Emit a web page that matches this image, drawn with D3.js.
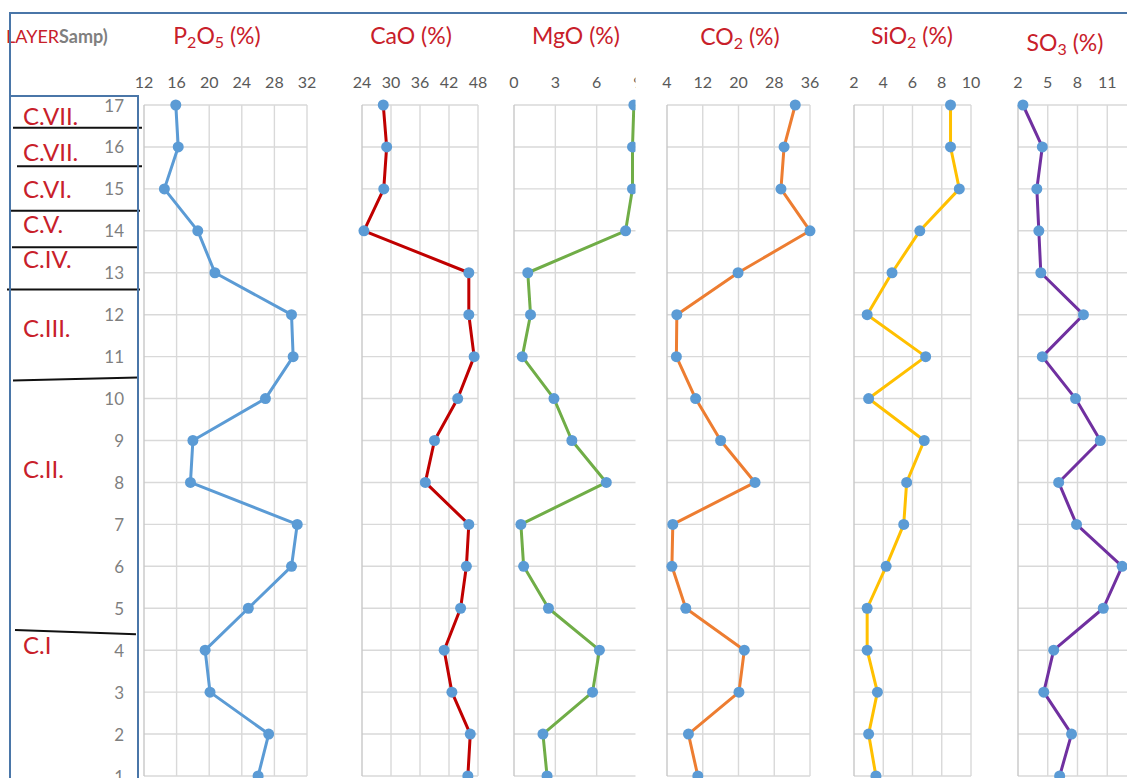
<!DOCTYPE html>
<html>
<head>
<meta charset="utf-8">
<script src="https://cdn.jsdelivr.net/npm/d3@7/dist/d3.min.js"></script>
<style>
  body { margin: 0; background: #fff; }
  svg { display: block; font-family: Lato, "Liberation Sans", sans-serif; }
</style>
</head>
<body>
<svg id="chart" width="1127" height="778"></svg>
<script>
// samples, top of the log first
const samples = d3.range(17, 0, -1);

// values, same order as samples (17 -> 1)
const p2o5 = [15.9, 16.2, 14.5, 18.6, 20.7, 30.1, 30.3, 26.9, 18.0, 17.7, 30.8, 30.1, 24.8, 19.5, 20.1, 27.3, 26.0];
const cao  = [28.4, 29.1, 28.5, 24.4, 46.1, 46.1, 47.2, 43.8, 39.0, 37.1, 46.1, 45.6, 44.4, 41.0, 42.6, 46.4, 45.9];
const mgo  = [8.7, 8.6, 8.6, 8.1, 1.0, 1.2, 0.6, 2.9, 4.2, 6.7, 0.5, 0.7, 2.5, 6.2, 5.7, 2.1, 2.4];
const co2  = [32.7, 30.2, 29.5, 36.0, 19.9, 6.2, 6.1, 10.4, 16.0, 23.7, 5.3, 5.1, 8.2, 21.3, 20.1, 8.8, 10.9];
const sio2 = [8.6, 8.6, 9.2, 6.5, 4.6, 2.9, 6.9, 3.0, 6.8, 5.6, 5.4, 4.2, 2.9, 2.9, 3.6, 3.0, 3.5];
const so3  = [2.5, 4.45, 3.9, 4.1, 4.3, 8.6, 4.45, 7.8, 10.3, 6.1, 7.9, 12.5, 10.6, 5.6, 4.6, 7.4, 6.2];

// tick labels of each panel
const p2o5Ticks = [12, 16, 20, 24, 28, 32];
const caoTicks  = [24, 30, 36, 42, 48];
const mgoTicks  = [0, 3, 6, 9];
const co2Ticks  = [4, 12, 20, 28, 36];
const sio2Ticks = [2, 4, 6, 8, 10];
const so3Ticks  = [2, 5, 8, 11];

// stratigraphic layers (positions in sample units)
const layerNames   = ["C.VII.", "C.VII.", "C.VI.", "C.V.", "C.IV.", "C.III.", "C.II.", "C.I"];
const layerLabelAt = [16.74, 15.88, 15.0, 14.17, 13.33, 11.69, 8.33, 4.14];
const breakLeft    = [16.46, 15.54, 14.48, 13.61, 12.6, 10.43, 4.48];
const breakRight   = [16.46, 15.54, 14.48, 13.61, 12.6, 10.5, 4.38];

const svg = d3.select("#chart");
const red = "#c8202a";
const frameBlue = "#4a76a8";
const dotBlue = "#5b9bd5";

const y = d3.scaleLinear().domain([1, 17]).range([776, 105]);

const panels = [
  { id: "p2o5", title: [["P"], ["2", 1], ["O"], ["5", 1], [" (%)"]], values: p2o5, ticks: p2o5Ticks,
    domain: [12, 32], range: [144, 307], color: "#5b9bd5", tx: 217, ty: 35 },
  { id: "cao", title: [["CaO (%)"]], values: cao, ticks: caoTicks,
    domain: [24, 48], range: [362, 478], color: "#c00000", tx: 411, ty: 35 },
  { id: "mgo", title: [["MgO (%)"]], values: mgo, ticks: mgoTicks,
    domain: [0, 9], range: [514, 638], color: "#70ad47", tx: 576, ty: 35, clipRight: 635.5 },
  { id: "co2", title: [["CO"], ["2", 1], [" (%)"]], values: co2, ticks: co2Ticks,
    domain: [4, 36], range: [667, 810], color: "#ed7d31", tx: 740, ty: 36 },
  { id: "sio2", title: [["SiO"], ["2", 1], [" (%)"]], values: sio2, ticks: sio2Ticks,
    domain: [2, 10], range: [854, 971], color: "#ffc000", tx: 912, ty: 35 },
  { id: "so3", title: [["SO"], ["3", 1], [" (%)"]], values: so3, ticks: so3Ticks,
    domain: [2, 14], range: [1018, 1137], color: "#7030a0", tx: 1065, ty: 42 }
];

const defs = svg.append("defs");

panels.forEach(p => {
  const x = d3.scaleLinear().domain(p.domain).range(p.range);
  const right = p.clipRight || 1127;

  defs.append("clipPath").attr("id", "clip-" + p.id)
    .append("rect")
    .attr("x", p.range[0] - 12).attr("y", 60)
    .attr("width", right - p.range[0] + 12).attr("height", 730);

  const g = svg.append("g").attr("clip-path", "url(#clip-" + p.id + ")");

  // grid
  g.selectAll(".hgrid").data(samples).enter().append("line")
    .attr("x1", p.range[0]).attr("x2", p.range[1])
    .attr("y1", d => y(d)).attr("y2", d => y(d))
    .attr("stroke", "#d9d9d9").attr("stroke-width", 1.4);
  g.selectAll(".vgrid").data(d3.range(p.domain[0], p.domain[1] + 0.001, p.ticks[1] - p.ticks[0])).enter().append("line")
    .attr("x1", d => x(d)).attr("x2", d => x(d))
    .attr("y1", y(17)).attr("y2", y(1))
    .attr("stroke", (d, i) => i === 0 ? "#c8c8c8" : "#d9d9d9")
    .attr("stroke-width", 1.4);

  // tick labels
  g.selectAll(".tick").data(p.ticks).enter().append("text")
    .attr("x", d => x(d)).attr("y", 81)
    .attr("text-anchor", "middle").attr("dominant-baseline", "central")
    .attr("font-size", 16).attr("fill", "#595959")
    .text(d => d);

  // profile
  const pts = samples.map((s, i) => ({ s: s, v: p.values[i] }));
  g.append("path").datum(pts)
    .attr("fill", "none").attr("stroke", p.color)
    .attr("stroke-width", 3).attr("stroke-linejoin", "round")
    .attr("d", d3.line().x(d => x(d.v)).y(d => y(d.s)));
  g.selectAll(".dot").data(pts).enter().append("circle")
    .attr("cx", d => x(d.v)).attr("cy", d => y(d.s)).attr("r", 5.5)
    .attr("fill", dotBlue);

  // title with subscripts
  const t = svg.append("text")
    .attr("x", p.tx).attr("y", p.ty)
    .attr("text-anchor", "middle").attr("dominant-baseline", "central")
    .attr("font-size", 23).attr("fill", red);
  let shifted = false;
  p.title.forEach(part => {
    const sub = !!part[1];
    const span = t.append("tspan").text(part[0]);
    if (sub) span.attr("font-size", 16);
    if (sub && !shifted) span.attr("dy", 6);
    if (!sub && shifted) span.attr("dy", -6);
    shifted = sub;
  });
});

// layer column
svg.append("text")
  .attr("x", 6).attr("y", 36).attr("dominant-baseline", "central")
  .attr("font-size", 18)
  .call(s => {
    s.append("tspan").attr("fill", red).text("LAYER");
    s.append("tspan").attr("fill", "#7f7f7f").attr("font-weight", "bold").text("Samp)");
  });

svg.selectAll(".snum").data(samples).enter().append("text")
  .attr("x", 124).attr("y", d => y(d))
  .attr("text-anchor", "end").attr("dominant-baseline", "central")
  .attr("font-size", 17).attr("fill", "#7f7f7f")
  .text(d => d);

svg.selectAll(".lname").data(layerNames).enter().append("text")
  .attr("x", 23).attr("y", (d, i) => y(layerLabelAt[i]))
  .attr("dominant-baseline", "central")
  .attr("font-size", 24).attr("fill", red)
  .text(d => d);

const breakX = [[13, 142], [17, 142], [11, 140], [12, 138], [7, 140], [13, 138], [15, 136]];
svg.selectAll(".brk").data(breakLeft).enter().append("line")
  .attr("x1", (d, i) => breakX[i][0]).attr("x2", (d, i) => breakX[i][1])
  .attr("y1", d => y(d)).attr("y2", (d, i) => y(breakRight[i]))
  .attr("stroke", "#111").attr("stroke-width", 2);

// frames
svg.append("path")
  .attr("d", "M10,778V13H1127")
  .attr("fill", "none").attr("stroke", frameBlue).attr("stroke-width", 2);
svg.append("path")
  .attr("d", "M10,96H138V778")
  .attr("fill", "none").attr("stroke", frameBlue).attr("stroke-width", 2);
</script>
</body>
</html>
